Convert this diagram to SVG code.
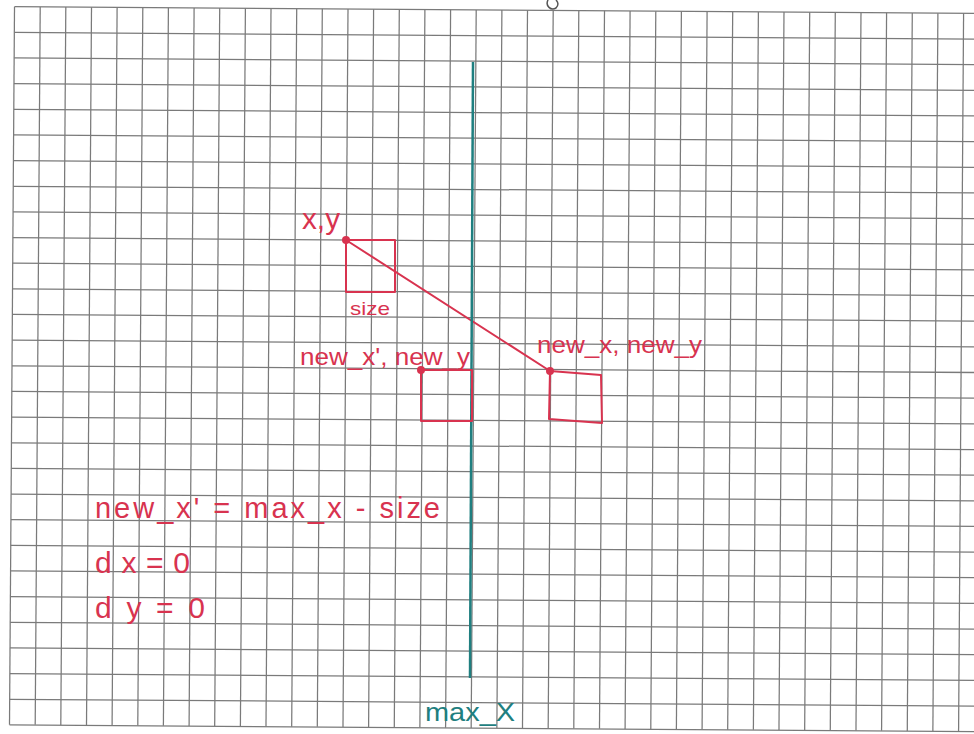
<svg xmlns="http://www.w3.org/2000/svg" width="974" height="734" viewBox="0 0 974 734">
  <defs>
    <style>
      .grid line { stroke: #7a7a7a; stroke-width: 1.25; }
      .red { fill: none; stroke: #d8334f; stroke-width: 2; stroke-linejoin: round; stroke-linecap: round; }
      .dot { fill: #d8334f; }
      .rt { fill: #d8334f; font-family: "Liberation Sans", Arial, sans-serif; }
      .tt { fill: #1f7f80; font-family: "Liberation Sans", Arial, sans-serif; }
    </style>
  </defs>
  <rect width="974" height="734" fill="#ffffff"/>
  <g id="grid" class="grid" transform="translate(0 1) rotate(0.4 487 367)">
    <line x1="12" y1="9" x2="12" y2="727"/>
    <line x1="37.7" y1="9" x2="37.7" y2="727"/>
    <line x1="63.3" y1="9" x2="63.3" y2="727"/>
    <line x1="89" y1="9" x2="89" y2="727"/>
    <line x1="114.6" y1="9" x2="114.6" y2="727"/>
    <line x1="140.3" y1="9" x2="140.3" y2="727"/>
    <line x1="165.9" y1="9" x2="165.9" y2="727"/>
    <line x1="191.6" y1="9" x2="191.6" y2="727"/>
    <line x1="217.2" y1="9" x2="217.2" y2="727"/>
    <line x1="242.9" y1="9" x2="242.9" y2="727"/>
    <line x1="268.5" y1="9" x2="268.5" y2="727"/>
    <line x1="294.2" y1="9" x2="294.2" y2="727"/>
    <line x1="319.8" y1="9" x2="319.8" y2="727"/>
    <line x1="345.5" y1="9" x2="345.5" y2="727"/>
    <line x1="371.1" y1="9" x2="371.1" y2="727"/>
    <line x1="396.8" y1="9" x2="396.8" y2="727"/>
    <line x1="422.4" y1="9" x2="422.4" y2="727"/>
    <line x1="448.1" y1="9" x2="448.1" y2="727"/>
    <line x1="473.7" y1="9" x2="473.7" y2="727"/>
    <line x1="499.4" y1="9" x2="499.4" y2="727"/>
    <line x1="525" y1="9" x2="525" y2="727"/>
    <line x1="550.7" y1="9" x2="550.7" y2="727"/>
    <line x1="576.3" y1="9" x2="576.3" y2="727"/>
    <line x1="602" y1="9" x2="602" y2="727"/>
    <line x1="627.6" y1="9" x2="627.6" y2="727"/>
    <line x1="653.3" y1="9" x2="653.3" y2="727"/>
    <line x1="678.9" y1="9" x2="678.9" y2="727"/>
    <line x1="704.6" y1="9" x2="704.6" y2="727"/>
    <line x1="730.2" y1="9" x2="730.2" y2="727"/>
    <line x1="755.9" y1="9" x2="755.9" y2="727"/>
    <line x1="781.5" y1="9" x2="781.5" y2="727"/>
    <line x1="807.2" y1="9" x2="807.2" y2="727"/>
    <line x1="832.8" y1="9" x2="832.8" y2="727"/>
    <line x1="858.5" y1="9" x2="858.5" y2="727"/>
    <line x1="884.1" y1="9" x2="884.1" y2="727"/>
    <line x1="909.8" y1="9" x2="909.8" y2="727"/>
    <line x1="935.4" y1="9" x2="935.4" y2="727"/>
    <line x1="961.1" y1="9" x2="961.1" y2="727"/>
    <line x1="12" y1="9" x2="985" y2="9"/>
    <line x1="12" y1="34.7" x2="985" y2="34.7"/>
    <line x1="12" y1="60.3" x2="985" y2="60.3"/>
    <line x1="12" y1="86" x2="985" y2="86"/>
    <line x1="12" y1="111.6" x2="985" y2="111.6"/>
    <line x1="12" y1="137.3" x2="985" y2="137.3"/>
    <line x1="12" y1="162.9" x2="985" y2="162.9"/>
    <line x1="12" y1="188.6" x2="985" y2="188.6"/>
    <line x1="12" y1="214.2" x2="985" y2="214.2"/>
    <line x1="12" y1="239.9" x2="985" y2="239.9"/>
    <line x1="12" y1="265.5" x2="985" y2="265.5"/>
    <line x1="12" y1="291.2" x2="985" y2="291.2"/>
    <line x1="12" y1="316.8" x2="985" y2="316.8"/>
    <line x1="12" y1="342.5" x2="985" y2="342.5"/>
    <line x1="12" y1="368.1" x2="985" y2="368.1"/>
    <line x1="12" y1="393.8" x2="985" y2="393.8"/>
    <line x1="12" y1="419.4" x2="985" y2="419.4"/>
    <line x1="12" y1="445.1" x2="985" y2="445.1"/>
    <line x1="12" y1="470.7" x2="985" y2="470.7"/>
    <line x1="12" y1="496.4" x2="985" y2="496.4"/>
    <line x1="12" y1="522" x2="985" y2="522"/>
    <line x1="12" y1="547.7" x2="985" y2="547.7"/>
    <line x1="12" y1="573.3" x2="985" y2="573.3"/>
    <line x1="12" y1="599" x2="985" y2="599"/>
    <line x1="12" y1="624.6" x2="985" y2="624.6"/>
    <line x1="12" y1="650.3" x2="985" y2="650.3"/>
    <line x1="12" y1="675.9" x2="985" y2="675.9"/>
    <line x1="12" y1="701.6" x2="985" y2="701.6"/>
    <line x1="12" y1="727.2" x2="985" y2="727.2"/>
  </g>
  <path d="M548 0 C545 6 551 11 556 8 C559 5 558 2 556 0" fill="none" stroke="#555" stroke-width="1.5"/>

  <g id="connectors">
    <line class="red" x1="346" y1="240" x2="550" y2="371"/>
  </g>

  <g id="max-x">
    <line x1="473" y1="62" x2="470" y2="678" stroke="#1f7f80" stroke-width="2.5"/>
    <text class="tt" x="425" y="721" font-size="26" textLength="90" lengthAdjust="spacingAndGlyphs">max_X</text>
  </g>

  <g id="start-box">
    <rect class="red" x="346" y="240" width="49" height="52"/>
    <circle class="dot" cx="346" cy="240" r="4"/>
    <text class="rt" x="302" y="229" font-size="29" textLength="38" lengthAdjust="spacingAndGlyphs">x,y</text>
    <text class="rt" x="350" y="315" font-size="19" textLength="40" lengthAdjust="spacingAndGlyphs">size</text>
  </g>

  <g id="clamped-box">
    <rect class="red" x="421" y="370" width="51" height="51"/>
    <circle class="dot" cx="421" cy="370" r="4"/>
    <text class="rt" x="300" y="365" font-size="24" textLength="170" lengthAdjust="spacingAndGlyphs">new_x', new_y</text>
  </g>

  <g id="new-box">
    <path class="red" d="M550 371 L601 375 L602 423 L549 419 Z"/>
    <circle class="dot" cx="550" cy="371" r="4"/>
    <text class="rt" x="537" y="353" font-size="24" textLength="165" lengthAdjust="spacingAndGlyphs">new_x, new_y</text>
  </g>

  <g id="formulas">
    <text class="rt" x="95" y="518" font-size="29" textLength="345" lengthAdjust="spacing">new_x' =  max_x - size</text>
    <text class="rt" x="95" y="573" font-size="30" textLength="95" lengthAdjust="spacing">dx=0</text>
    <text class="rt" x="95" y="618" font-size="30" textLength="110" lengthAdjust="spacing">dy=0</text>
  </g>
</svg>
